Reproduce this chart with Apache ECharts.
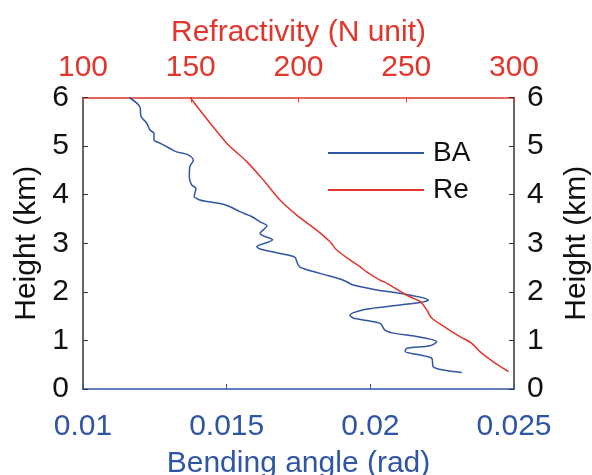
<!DOCTYPE html>
<html>
<head>
<meta charset="utf-8">
<script src="https://cdn.jsdelivr.net/npm/echarts@6/dist/echarts.min.js"></script>
<style>
  html, body { margin: 0; padding: 0; background: #fff; overflow: hidden; }
  #chart { width: 592px; height: 475px; }
</style>
</head>
<body>
<div id="chart"></div>
<script>
// bending angle profile (bottom axis)
const baAngle = [0.01161, 0.01198, 0.01202, 0.01222, 0.01233, 0.01247, 0.01247, 0.01268, 0.01303, 0.01326,
  0.01366, 0.01384, 0.01372, 0.01370, 0.01378, 0.01393, 0.01387, 0.01407, 0.01431, 0.01477,
  0.01512, 0.01546, 0.01587, 0.01616, 0.01640, 0.01616, 0.01660, 0.01605, 0.01616, 0.01686,
  0.01738, 0.01744, 0.01755, 0.01825, 0.01906, 0.01941, 0.02022, 0.02103, 0.02202, 0.02173,
  0.02045, 0.01976, 0.01929, 0.01941, 0.01987, 0.02034, 0.02051, 0.02080, 0.02161, 0.02231,
  0.02208, 0.02127, 0.02121, 0.02173, 0.02214, 0.02219, 0.02254, 0.02318];
const baHeight = [6.00, 5.81, 5.61, 5.47, 5.33, 5.26, 5.13, 5.06, 4.95, 4.88,
  4.82, 4.71, 4.58, 4.37, 4.20, 4.13, 3.96, 3.89, 3.86, 3.82,
  3.75, 3.65, 3.55, 3.44, 3.36, 3.20, 3.07, 2.93, 2.88, 2.79,
  2.71, 2.62, 2.51, 2.38, 2.24, 2.14, 2.04, 1.97, 1.83, 1.78,
  1.69, 1.63, 1.52, 1.46, 1.41, 1.35, 1.21, 1.15, 1.08, 0.97,
  0.89, 0.84, 0.77, 0.70, 0.63, 0.46, 0.39, 0.34];

// refractivity profile (top axis)
const reN = [149.7, 166.7, 176.0, 183.7, 191.4, 199.2, 208.4, 214.6, 217.7, 223.9, 228.5, 231.6,
  237.8, 240.9, 250.2, 256.4, 259.5, 261.8, 268.8, 274.9, 280.4, 284.2, 290.4, 297.4];
const reHeight = [6.00, 5.06, 4.68, 4.30, 3.89, 3.58, 3.27, 3.03, 2.86, 2.66, 2.52, 2.41,
  2.24, 2.18, 1.93, 1.80, 1.63, 1.46, 1.25, 1.08, 0.94, 0.77, 0.56, 0.36];

const blue = "#2f56a3";
const red = "#e2352b";
const dark = "#333333";
const font = "Liberation Sans, Arial, sans-serif";

const chart = echarts.init(document.getElementById("chart"), null, { renderer: "canvas" });

const yAxisCommon = {
  type: "value",
  min: 0,
  max: 6,
  interval: 1,
  nameLocation: "middle",
  nameTextStyle: { color: "#111", fontSize: 30, fontFamily: font },
  axisLine: { show: true, onZero: false, lineStyle: { color: dark, width: 1.5 } },
  axisTick: { show: true, inside: true, length: 5, lineStyle: { color: dark } },
  axisLabel: { color: "#111", fontSize: 30, fontFamily: font },
  splitLine: { show: false }
};

const option = {
  animation: false,
  grid: { left: 83, right: 78, top: 97.5, bottom: 86, containLabel: false, outerBoundsMode: "none" },
  legend: {
    left: 328,
    top: 138,
    padding: 0,
    orient: "vertical",
    itemWidth: 96,
    itemHeight: 2,
    itemGap: 7,
    icon: "rect",
    textStyle: { color: "#111", fontSize: 28, fontFamily: font, lineHeight: 30, padding: [0, 0, 0, 4] },
    data: ["BA", "Re"]
  },
  xAxis: [
    {
      type: "value",
      position: "bottom",
      min: 0.01,
      max: 0.025,
      interval: 0.005,
      name: "Bending angle (rad)",
      nameLocation: "middle",
      nameGap: 60,
      nameTextStyle: { color: blue, fontSize: 30, fontFamily: font },
      axisLine: { show: true, onZero: false, lineStyle: { color: blue, width: 1.5 } },
      axisTick: { show: true, inside: true, length: 5, lineStyle: { color: blue } },
      axisLabel: { color: blue, fontSize: 30, fontFamily: font, margin: 23 },
      splitLine: { show: false }
    },
    {
      type: "value",
      position: "top",
      min: 100,
      max: 300,
      interval: 50,
      name: "Refractivity (N unit)",
      nameLocation: "middle",
      nameGap: 50,
      nameTextStyle: { color: red, fontSize: 30, fontFamily: font },
      axisLine: { show: true, onZero: false, lineStyle: { color: red, width: 1.5 } },
      axisTick: { show: true, inside: true, length: 5, lineStyle: { color: red } },
      axisLabel: { color: red, fontSize: 30, fontFamily: font, margin: 15 },
      splitLine: { show: false }
    }
  ],
  yAxis: [
    Object.assign({}, yAxisCommon, {
      position: "left",
      name: "Height (km)",
      nameGap: 40,
      axisLabel: Object.assign({}, yAxisCommon.axisLabel, { margin: 14 })
    }),
    Object.assign({}, yAxisCommon, {
      position: "right",
      name: "Height (km)",
      nameGap: 48,
      axisLabel: Object.assign({}, yAxisCommon.axisLabel, { margin: 13 })
    })
  ],
  series: [
    {
      name: "BA",
      type: "line",
      xAxisIndex: 0,
      yAxisIndex: 0,
      smooth: 0.3,
      symbol: "none",
      color: blue,
      lineStyle: { color: blue, width: 1.5 },
      data: baAngle.map((v, i) => [v, baHeight[i]])
    },
    {
      name: "Re",
      type: "line",
      xAxisIndex: 1,
      yAxisIndex: 0,
      smooth: 0.3,
      symbol: "none",
      color: red,
      lineStyle: { color: red, width: 1.5 },
      data: reN.map((v, i) => [v, reHeight[i]])
    }
  ]
};

chart.setOption(option);
</script>
</body>
</html>
